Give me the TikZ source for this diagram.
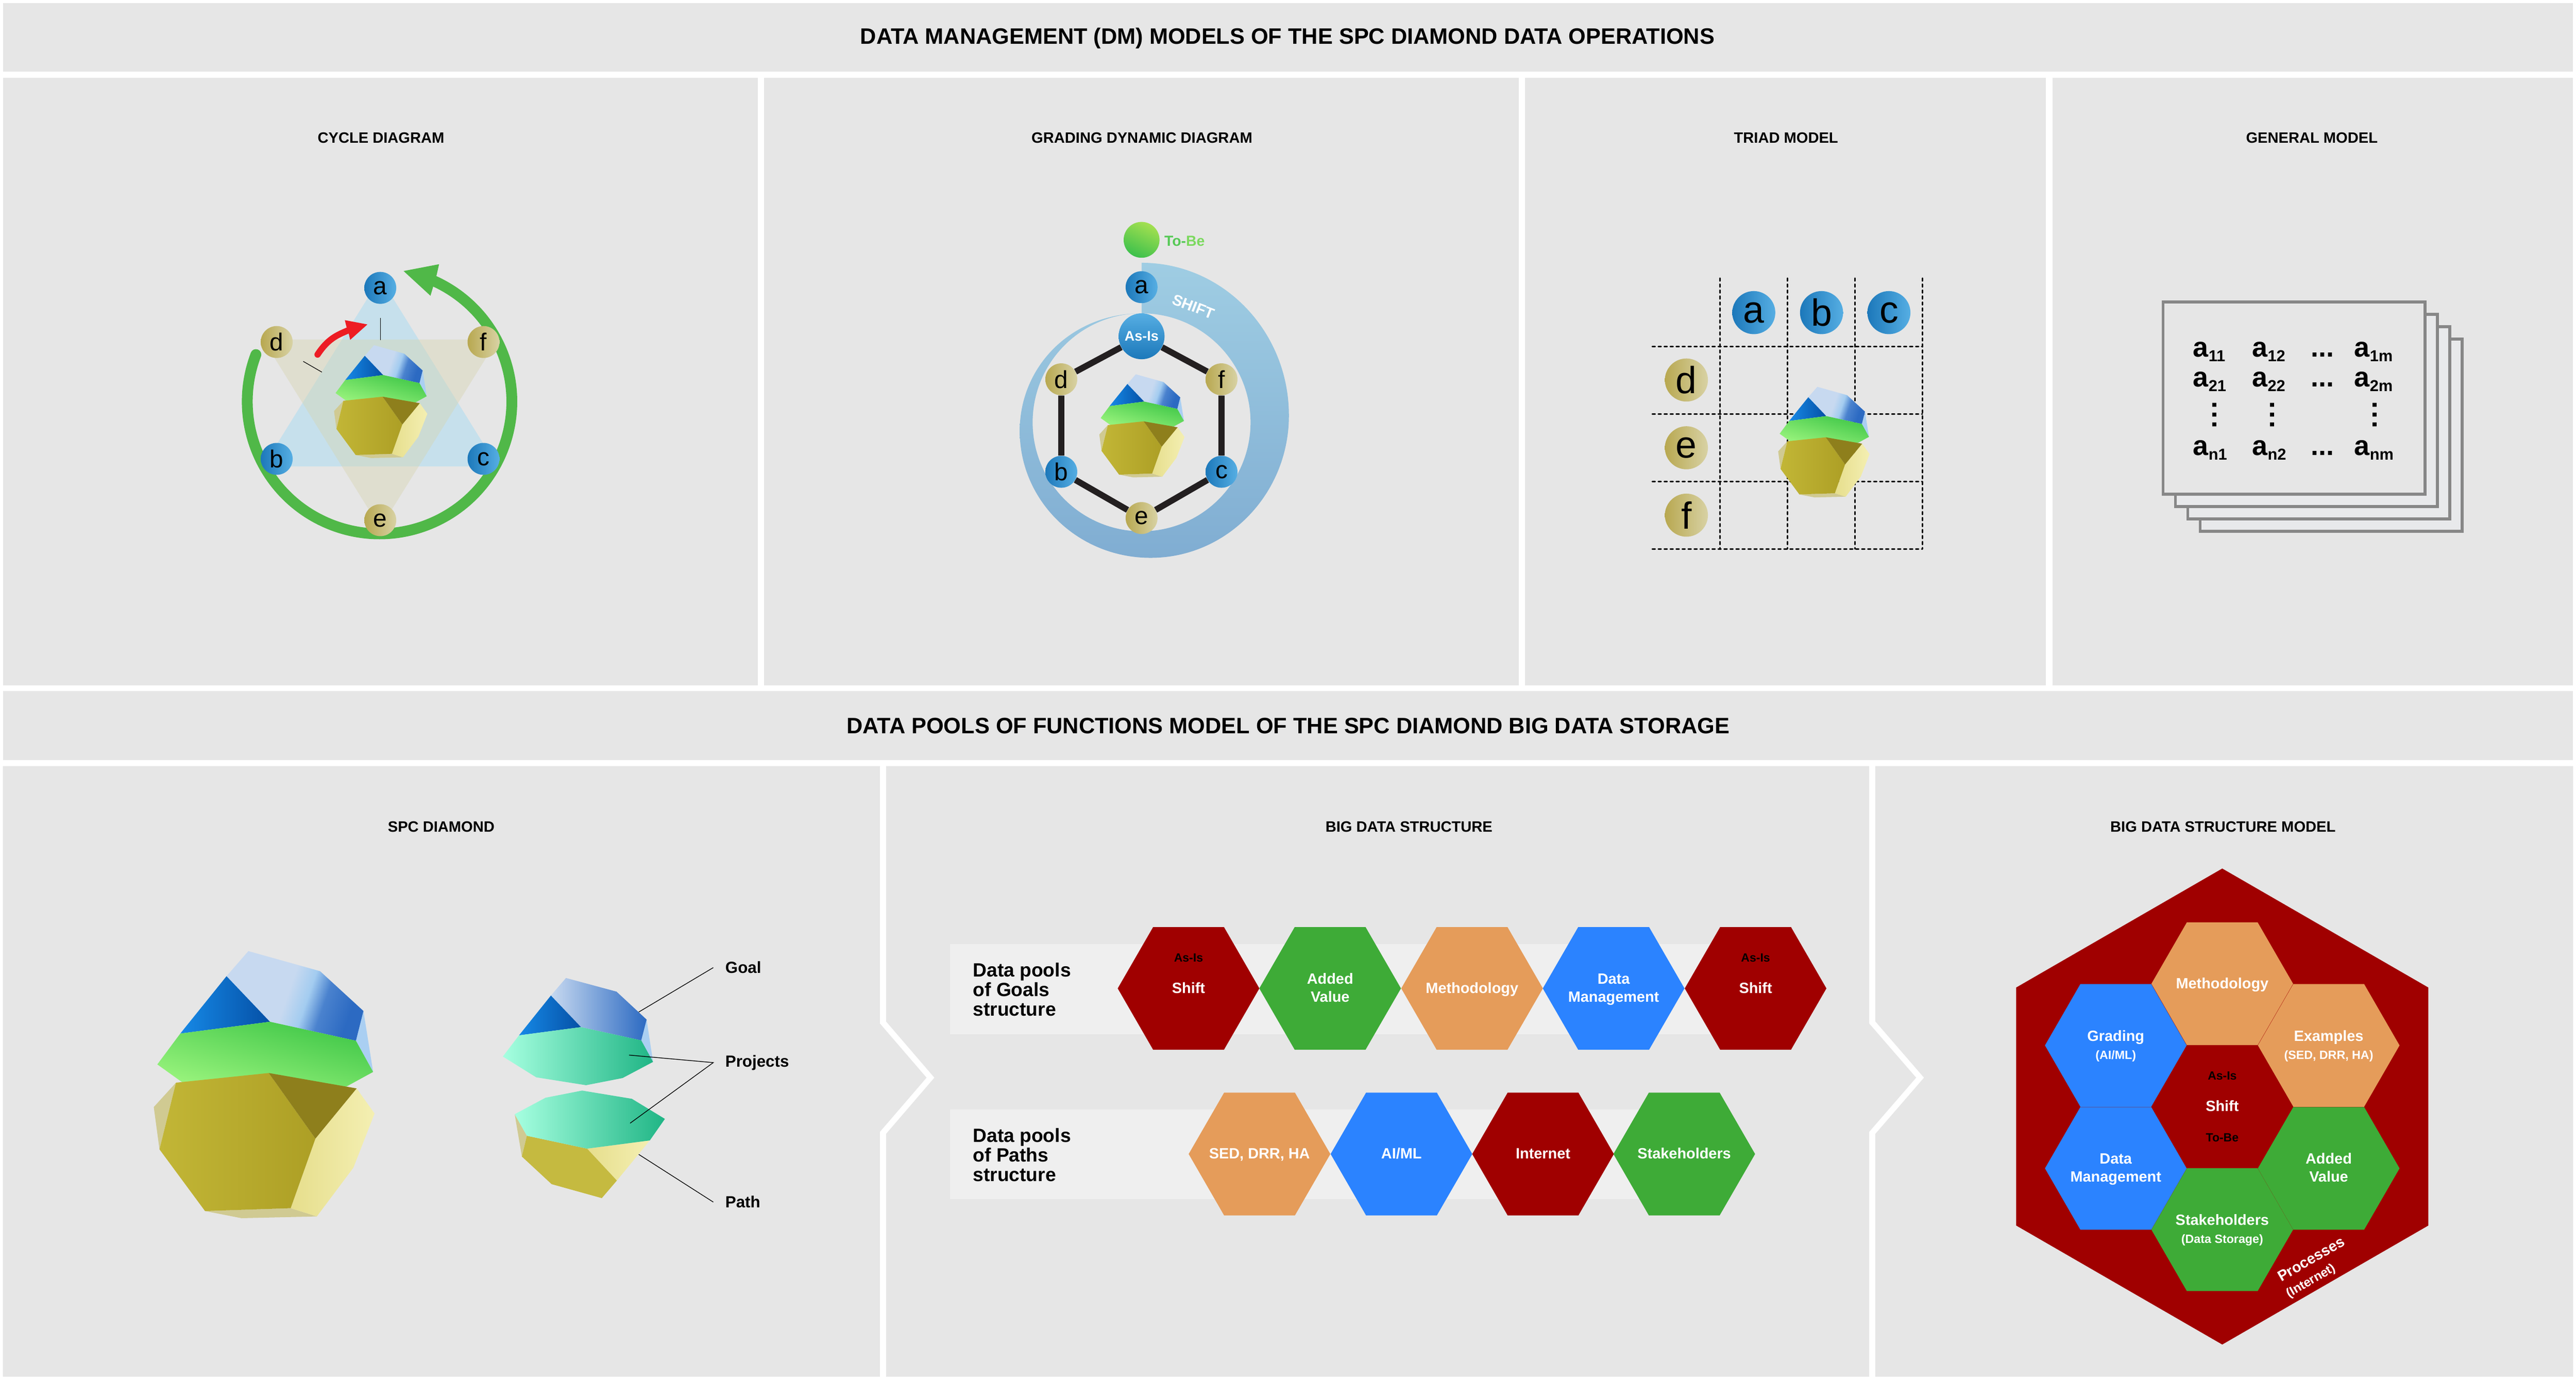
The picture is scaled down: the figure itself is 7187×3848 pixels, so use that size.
\documentclass[tikz,border=0pt]{standalone}
\usepackage{fontspec}
\setmainfont{Liberation Sans}
\usetikzlibrary{shapes.geometric}

\definecolor{panelgray}{HTML}{E6E6E6}
\definecolor{barlight}{HTML}{EFEFEF}
\definecolor{hexred}{HTML}{A00000}
\definecolor{hexgreen}{HTML}{3EAB37}
\definecolor{hexorange}{HTML}{E59C5A}
\definecolor{hexblue}{HTML}{2B83FF}
\definecolor{sheetgray}{HTML}{878787}
\definecolor{sheetfill}{HTML}{E8E9EB}
\definecolor{gfa}{HTML}{C7D9F0}
\definecolor{gfb}{HTML}{A3CCF0}
\definecolor{gfc}{HTML}{4A82CE}
\definecolor{gfd}{HTML}{2C6AC2}
\definecolor{gemsliver}{HTML}{AACFF2}
\definecolor{ballbluea}{HTML}{1C78BA}
\definecolor{ballblueb}{HTML}{56AEE3}
\definecolor{balltana}{HTML}{B8A850}
\definecolor{balltanb}{HTML}{D8D2A4}
\definecolor{gemgreena}{HTML}{3EC647}
\definecolor{gemgreenb}{HTML}{98F37C}
\definecolor{gemblua}{HTML}{1689E6}
\definecolor{gembluc}{HTML}{0550A6}
\definecolor{gemtan}{HTML}{D0CA92}
\definecolor{gemyela}{HTML}{E6DE8C}
\definecolor{gemyelb}{HTML}{F4EFB2}
\definecolor{gemgolda}{HTML}{C2B636}
\definecolor{gemgoldb}{HTML}{AD9F25}
\definecolor{gemolive}{HTML}{8E7F1C}
\definecolor{tealb}{HTML}{A6FFE0}
\definecolor{teald}{HTML}{20B585}
\definecolor{cycleblue}{HTML}{C6E0EC}
\definecolor{cycletan}{RGB}{214,211,171}
\definecolor{ringgreen}{HTML}{50B848}
\definecolor{arrowred}{HTML}{ED1C24}
\definecolor{shifttop}{HTML}{9FCDE3}
\definecolor{shiftbot}{HTML}{80ADD2}
\definecolor{tobea}{HTML}{A4E050}
\definecolor{tobeb}{HTML}{3CC04C}
\definecolor{tobec}{HTML}{55C955}
\definecolor{tobed}{HTML}{7CD95F}
\definecolor{hexline}{HTML}{231F20}

\pgfdeclarehorizontalshading{goalface}{100bp}{color(0bp)=(gfa); color(47bp)=(gfa); color(55bp)=(gfb); color(62bp)=(gfc); color(73bp)=(gfd); color(100bp)=(gfd)}

\tikzset{
  headtext/.style={font=\bfseries\fontsize{17.7}{21}\selectfont},
  paneltext/.style={font=\bfseries\fontsize{11.9}{14}\selectfont},
  calltext/.style={font=\bfseries\fontsize{12.8}{15}\selectfont,anchor=west,inner sep=0pt,inner xsep=.33cm},
  pooltext/.style={font=\bfseries\fontsize{15.2}{15.6}\selectfont,align=left,anchor=west,inner sep=0pt},
  bluenode/.style={circle,minimum size=.89cm,inner sep=0pt,left color=ballbluea,right color=ballblueb,font=\fontsize{19.5}{20}\selectfont},
  tannode/.style={circle,minimum size=.89cm,inner sep=0pt,left color=balltana,right color=balltanb,font=\fontsize{19.5}{20}\selectfont},
  bigball/.style={minimum size=1.2cm,font=\fontsize{30}{30}\selectfont},
  hexcell/.style={regular polygon,regular polygon sides=6,minimum size=3.95cm,inner sep=0pt,outer sep=0pt,text=white,font=\bfseries\fontsize{11.8}{14.3}\selectfont},
  smallnote/.style={font=\bfseries\fontsize{9.4}{11}\selectfont},
  matcell/.style={anchor=base west,inner sep=0pt,font=\bfseries\fontsize{22}{24}\selectfont},
  sheet/.style={draw=sheetgray,line width=2.3pt,fill=#1},
  gridline/.style={line width=1.22pt,line cap=round,dash pattern=on 2.2pt off 2.55pt},
}

\newcommand{\aentry}[1]{a\raisebox{-3.6pt}{\fontsize{12.6}{12.6}\selectfont #1}}
\newcommand{\smallhex}{\fontsize{9.5}{11}\selectfont}
\newcommand{\vdotstext}{.\kern1.8pt.\kern1.8pt.}
\newcommand{\hexlab}[1]{\makebox[0pt]{\raisebox{-3.86pt}[0pt][0pt]{\begin{tabular}{@{}c@{}}#1\end{tabular}}}}

% caras del diamante completo
\newcommand{\wholegem}{
  \fill[gemsliver] (1014,2820) -- (1041,2990) -- (993,2903) -- cycle;
  \shade[shading=goalface,shading angle=-19] (693,2653) -- (893,2709) -- (1014,2820) -- (993,2903) -- (753,2850) -- (632,2723) -- cycle;
  \shade[left color=gemblua,right color=gembluc] (632,2723) -- (753,2850) -- (503,2883) -- cycle;
  \shade[top color=gemgreena,bottom color=gemgreenb,shading angle=-15] (503,2883) -- (753,2850) -- (993,2903) -- (1041,2990) -- (966,3031) -- (750,3010) -- (517,3025) -- (439,2969) -- cycle;
  \fill[gemtan] (491,3020) -- (429,3088) -- (445,3206) -- cycle;
  \fill[gemtan] (572,3378) -- (674,3398) -- (884,3393) -- (811,3370) -- cycle;
  \shade[left color=gemyela,right color=gemyelb] (995,3036) -- (1045,3106) -- (986,3257) -- (884,3393) -- (811,3370) -- (880,3176) -- cycle;
  \shade[left color=gemgolda,right color=gemgoldb] (491,3020) -- (750,2993) -- (880,3176) -- (811,3370) -- (572,3378) -- (445,3206) -- cycle;
  \fill[gemolive] (750,2993) -- (995,3036) -- (880,3176) -- cycle;
}

\begin{document}
\begin{tikzpicture}[x=.01cm,y=-.01cm]
  \useasboundingbox (0,0) rectangle (7187,3848);
  \fill[white] (0,0) rectangle (7187,3848);

  % Paneles
  \fill[panelgray] (8,8) rectangle (7179,200);
  \fill[panelgray] (8,217) rectangle (2115,1911);
  \fill[panelgray] (2132,217) rectangle (4238,1911);
  \fill[panelgray] (4255,217) rectangle (5708,1911);
  \fill[panelgray] (5726,217) rectangle (7179,1911);
  \fill[panelgray] (8,1928) rectangle (7179,2120);
  \fill[panelgray] (8,2137) -- (2455,2137) -- (2455,2855) -- (2585,3006) -- (2455,3157) -- (2455,3840) -- (8,3840) -- cycle;
  \fill[panelgray] (2472,2137) -- (5215,2137) -- (5215,2855) -- (5346,3006) -- (5215,3157) -- (5215,3840) -- (2472,3840) -- (2472,3163) -- (2607,3006) -- (2472,2849) -- cycle;
  \fill[panelgray] (5232,2137) -- (7179,2137) -- (7179,3840) -- (5232,3840) -- (5232,3163) -- (5368,3006) -- (5232,2849) -- cycle;

  % Titulos
  \node[headtext] (headtop) at (3592,107) {DATA MANAGEMENT (DM) MODELS OF THE SPC DIAMOND DATA OPERATIONS};
  \node[headtext] (headlow) at (3594,2024) {DATA POOLS OF FUNCTIONS MODEL OF THE SPC DIAMOND BIG DATA STORAGE};
  \node[paneltext] (titlecycle) at (1063,385) {CYCLE DIAGRAM};
  \node[paneltext] (titlegrading) at (3186,385) {GRADING DYNAMIC DIAGRAM};
  \node[paneltext] (titletriad) at (4983,385) {TRIAD MODEL};
  \node[paneltext] (titlegeneral) at (6450,385) {GENERAL MODEL};
  \node[paneltext] (titlespc) at (1231,2306) {SPC DIAMOND};
  \node[paneltext] (titlestruct) at (3931,2306) {BIG DATA STRUCTURE};
  \node[paneltext] (titlemodel) at (6202,2306) {BIG DATA STRUCTURE MODEL};

  % Diagrama de ciclo
  \fill[cycleblue] (1061,775) -- (1388,1301) -- (734,1301) -- cycle;
  \fill[cycletan,fill opacity=.375] (734,947) -- (1388,947) -- (1061,1473) -- cycle;
  \draw[ringgreen,line width=8.6pt,line cap=round] (714,989) arc[start angle=200.8,end angle=-65.8,radius=369];
  \fill[ringgreen] (1126,756) -- (1225,737) -- (1218,768) -- (1209,798) -- (1201,825) -- cycle;
  \draw[arrowred,line width=5pt,line cap=round] (886,989) .. controls (915,945) and (940,935) .. (970,922);
  \fill[arrowred] (1025,905) -- (962,893) -- (967,913) -- (973,931) -- (977,948) -- cycle;
  \draw[black,line width=.5pt] (1061,887) -- (1061,948);
  \draw[black,line width=.5pt] (846,1008) -- (898,1038);
  \begin{scope}[shift={(750.7,-158)},scale=.4225]
    \wholegem
  \end{scope}
  \node[bluenode] (cyca) at (1061,803) {a};
  \node[bluenode] (cycb) at (772,1280) {b};
  \node[bluenode] (cycc) at (1349,1280) {c};
  \node[tannode] (cycd) at (772,954) {d};
  \node[tannode] (cyce) at (1061,1451) {e};
  \node[tannode] (cycf) at (1349,954) {f};

  % Diagrama dinamico
  \shade[top color=shifttop,bottom color=shiftbot] (3185,733) .. controls (3412,733) and (3596,924) .. (3596,1159) .. controls (3596,1378) and (3423,1556) .. (3210,1556) .. controls (3008,1556) and (2845,1398) .. (2845,1202) .. controls (2845,1021) and (2990,874) .. (3185,874) arc[start angle=270,end angle=-90,radius=304] -- cycle;
  \node[font=\bfseries\fontsize{12}{14}\selectfont,text=white,rotate=-21] (shiftlabel) at (3330,855) {SHIFT};
  \begin{scope}[shift={(2901.4,20)},scale=.386]
    \wholegem
  \end{scope}
  \node[circle,minimum size=1cm,inner sep=0pt,top color=tobea,bottom color=tobeb,shading angle=-25] (tobeball) at (3185,669) {};
  \node[font=\bfseries\fontsize{11.6}{13}\selectfont,anchor=west,inner sep=0pt] (tobelabel) at (3248,672) {\textcolor{tobec}{To-}\textcolor{tobed}{Be}};
  \node[bluenode] (grdga) at (3185,801) {a};
  \node[circle,minimum size=1.28cm,inner sep=0pt,top color=ballblueb,bottom color=ballbluea,text=white,font=\bfseries\fontsize{11}{13}\selectfont] (asis) at (3185,938) {As-Is};
  \node[tannode] (grdgd) at (2961,1058) {d};
  \node[tannode] (grdgf) at (3408,1058) {f};
  \node[bluenode] (grdgb) at (2961,1316) {b};
  \node[bluenode] (grdgc) at (3408,1316) {c};
  \node[tannode] (grdge) at (3185,1445) {e};
  \draw[hexline,line width=4.9pt] (asis) -- (grdgd) -- (grdgb) -- (grdge) -- (grdgc) -- (grdgf) -- (asis);

  % Modelo triada
  \foreach \gx in {4798,4987,5175,5363}
    \draw[gridline] (\gx,776) -- (\gx,1531);
  \foreach \gy in {967,1155,1343,1531}
    \draw[gridline] (4610,\gy) -- (5363,\gy);
  \begin{scope}[shift={(4783.4,-19.3)},scale=.414]
    \wholegem
  \end{scope}
  \node[bluenode,bigball] (triada) at (4893,872) {a};
  \node[bluenode,bigball] (triadb) at (5082,872) {b};
  \node[bluenode,bigball] (triadc) at (5270,872) {c};
  \node[tannode,bigball] (triadd) at (4705,1060) {d};
  \node[tannode,bigball] (triade) at (4705,1249) {e};
  \node[tannode,bigball] (triadf) at (4705,1437) {f};

  % Modelo general
  \foreach \sx in {103.5,69,34.5}
    \draw[sheet=sheetfill] (6035+\sx,842+\sx) rectangle ++(731,536);
  \draw[sheet=panelgray] (6035,842) rectangle ++(731,536);
  \foreach \rowy/\ia in {996/1,1079/2,1270/n} {
    \node[matcell] (m\ia1) at (6118,\rowy) {\aentry{\ia1}};
    \node[matcell] (m\ia2) at (6283,\rowy) {\aentry{\ia2}};
    \node[matcell] (m\ia3) at (6447,\rowy) {...};
    \node[matcell] (m\ia4) at (6568,\rowy) {\aentry{\ia m}};
  }
  \foreach \dotx/\dotn in {6178/1,6340/2,6626/4}
    \node[font=\bfseries\fontsize{22}{24}\selectfont,inner sep=0pt,rotate=90] (vdots\dotn) at (\dotx,1157) {\vdotstext};

  % Diamante SPC
  \wholegem
  \fill[gemsliver] (1804,2844) -- (1822,2962) -- (1789,2902) -- cycle;
  \shade[left color=gfa,right color=gfd] (1579,2728) -- (1720,2766) -- (1804,2844) -- (1789,2902) -- (1621,2865) -- (1537,2777) -- cycle;
  \shade[left color=gemblua,right color=gembluc] (1537,2777) -- (1621,2865) -- (1448,2888) -- cycle;
  \shade[left color=tealb,right color=teald] (1448,2888) -- (1621,2865) -- (1789,2902) -- (1822,2962) -- (1737,3007) -- (1635,3027) -- (1496,3005) -- (1403,2947) -- cycle;
  \fill[gemtan] (1436,3108) -- (1470,3168) -- (1456,3226) -- cycle;
  \shade[left color=gemyela,right color=gemyelb] (1638,3204) -- (1813,3181) -- (1721,3293) -- cycle;
  \fill[gemgolda!95!white] (1470,3168) -- (1638,3204) -- (1721,3293) -- (1679,3342) -- (1539,3303) -- (1456,3226) -- cycle;
  \shade[left color=tealb,right color=teald] (1624,3042) -- (1763,3065) -- (1855,3121) -- (1813,3181) -- (1638,3204) -- (1470,3168) -- (1436,3108) -- (1522,3062) -- cycle;
  \node[calltext] (goallabel) at (1990,2699) {Goal};
  \node[calltext] (projlabel) at (1990,2964) {Projects};
  \node[calltext] (pathlabel) at (1990,3353) {Path};
  \coordinate (goalpt) at (1782,2823);
  \coordinate (projupper) at (1755,2943);
  \coordinate (projlower) at (1758,3133);
  \coordinate (pathpt) at (1782,3220);
  \draw[line width=.55pt] (goalpt) -- (goallabel.west);
  \draw[line width=.55pt] (projupper) -- (projlabel.west) -- (projlower);
  \draw[line width=.55pt] (pathpt) -- (pathlabel.west);

  % Estructura de datos
  \fill[barlight] (2650,2633) rectangle (4772,2885);
  \fill[barlight] (2650,3094) rectangle (4573,3345);
  \node[pooltext] (goalpools) at (2714,2760) {Data pools\\of Goals\\structure};
  \node[pooltext] (pathpools) at (2714,3221) {Data pools\\of Paths\\structure};
  \foreach \cx/\col/\txt in {3316/hexred/Shift,3711/hexgreen/{Added\\Value},4107/hexorange/Methodology,4502/hexblue/{Data\\Management},4898/hexred/Shift}
    \node[hexcell,fill=\col] (goal\cx) at (\cx,2757) {\hexlab{\txt}};
  \node[smallnote] (asisleft) at (3316,2672) {As-Is};
  \node[smallnote] (asisright) at (4898,2672) {As-Is};
  \foreach \cx/\col/\txt in {3514/hexorange/{SED, DRR, HA},3910/hexblue/{AI/ML},4305/hexred/Internet,4699/hexgreen/Stakeholders}
    \node[hexcell,fill=\col] (path\cx) at (\cx,3219) {\hexlab{\txt}};

  % Modelo de estructura
  \node[regular polygon,regular polygon sides=6,shape border rotate=30,minimum size=13.27cm,inner sep=0pt,fill=hexred] (outerhex) at (6200,3086.5) {};
  \node[hexcell,fill=hexorange] (hexmethod) at (6200,2744) {\hexlab{Methodology}};
  \node[hexcell,fill=hexblue] (hexgrade) at (5903,2916) {\hexlab{Grading\\\smallhex (AI/ML)}};
  \node[hexcell,fill=hexorange] (hexexam) at (6497,2916) {\hexlab{Examples\\\smallhex (SED, DRR, HA)}};
  \node[hexcell,fill=hexred] (hexshift) at (6200,3087) {\hexlab{Shift}};
  \node[hexcell,fill=hexblue] (hexdata) at (5903,3259) {\hexlab{Data\\Management}};
  \node[hexcell,fill=hexgreen] (hexadded) at (6497,3259) {\hexlab{Added\\Value}};
  \node[hexcell,fill=hexgreen] (hexstake) at (6200,3430) {\hexlab{Stakeholders\\\smallhex (Data Storage)}};
  \node[smallnote] (asismid) at (6200,3001) {As-Is};
  \node[smallnote] (tobemid) at (6200,3173) {To-Be};
  \node[text=white,rotate=30,font=\bfseries\fontsize{11.8}{14}\selectfont] (procnode) at (6448,3512) {Processes};
  \node[text=white,rotate=30,font=\bfseries\fontsize{10}{12}\selectfont] (internode) at (6448,3574) {(Internet)};
\end{tikzpicture}
\end{document}
